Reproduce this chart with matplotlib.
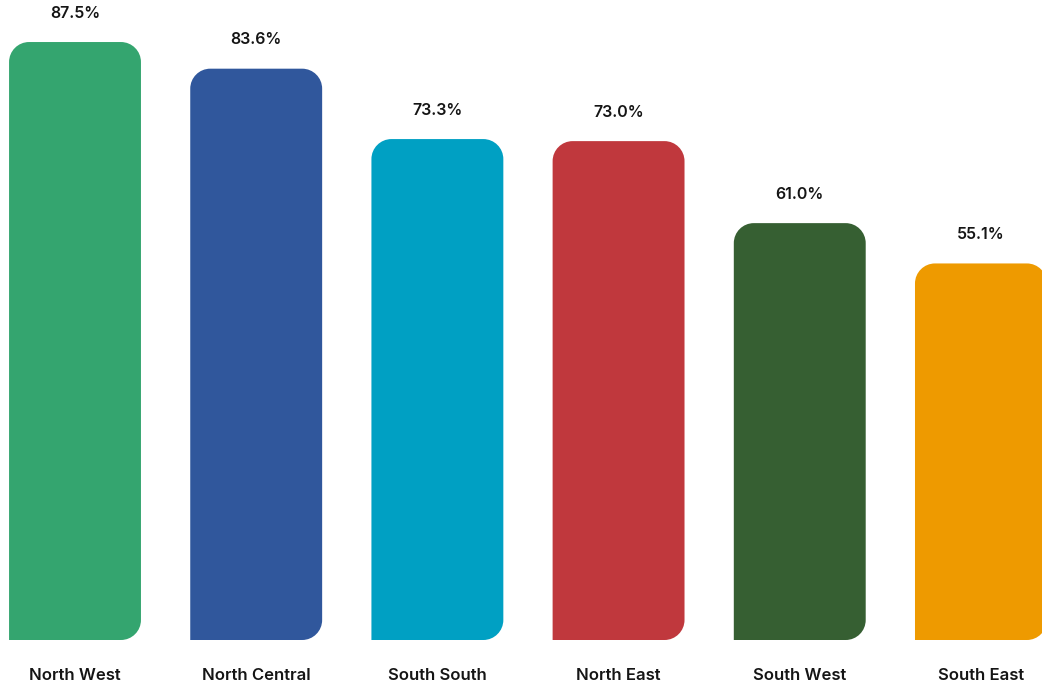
import matplotlib
matplotlib.use("Agg")
import matplotlib.pyplot as plt
from matplotlib.path import Path
from matplotlib.patches import PathPatch

regions = ["North West", "North Central", "South South", "North East", "South West", "South East"]
values = [87.5, 83.6, 73.3, 73.0, 61.0, 55.1]
colors = ["#34A56F", "#30579C", "#00A0C3", "#C0383D", "#365F32", "#EE9A00"]

W, H, DPI = 1042, 682, 100
fig = plt.figure(figsize=(W / DPI, H / DPI), dpi=DPI)
plt.rcParams["font.family"] = ["Inter", "DejaVu Sans"]

# axes spans the region above the category labels
bottom_px = 640
ax = fig.add_axes([0, 1 - bottom_px / H, 1, bottom_px / H])
ax.set_xlim(-0.414, 5.337)
ax.set_ylim(0, 93.65)
ax.axis("off")

bar_w = 0.728
radius_px = 20
# convert pixel radius to data units on each axis
x_per_px = (ax.get_xlim()[1] - ax.get_xlim()[0]) / W
y_per_px = (ax.get_ylim()[1] - ax.get_ylim()[0]) / bottom_px
rx, ry = radius_px * x_per_px, radius_px * y_per_px
k = 0.5523


def rounded_bar(x0, x1, top):
    """Bar with rounded top corners and rounded bottom-right corner."""
    verts = [
        (x0, 0),
        (x1 - rx, 0),
        (x1 - rx + k * rx, 0), (x1, ry - k * ry), (x1, ry),
        (x1, top - ry),
        (x1, top - ry + k * ry), (x1 - rx + k * rx, top), (x1 - rx, top),
        (x0 + rx, top),
        (x0 + rx - k * rx, top), (x0, top - ry + k * ry), (x0, top - ry),
        (x0, 0),
        (x0, 0),
    ]
    codes = [Path.MOVETO, Path.LINETO,
             Path.CURVE4, Path.CURVE4, Path.CURVE4,
             Path.LINETO,
             Path.CURVE4, Path.CURVE4, Path.CURVE4,
             Path.LINETO,
             Path.CURVE4, Path.CURVE4, Path.CURVE4,
             Path.LINETO, Path.CLOSEPOLY]
    return Path(verts, codes)


for i, (name, v, c) in enumerate(zip(regions, values, colors)):
    p = rounded_bar(i - bar_w / 2, i + bar_w / 2, v)
    ax.add_patch(PathPatch(p, facecolor=c, edgecolor="none"))
    ax.annotate(f"{v:.1f}%", xy=(i, v), xytext=(0, 29), textcoords="offset pixels",
                ha="center", va="center", fontsize=11.5, fontweight="semibold", color="#151515")
    ax.annotate(name, xy=(i, 0), xytext=(0, -35), textcoords="offset pixels",
                ha="center", va="center", fontsize=12, fontweight="semibold",
                color="#151515", annotation_clip=False)

fig.savefig("out.png", dpi=DPI, facecolor="white")
